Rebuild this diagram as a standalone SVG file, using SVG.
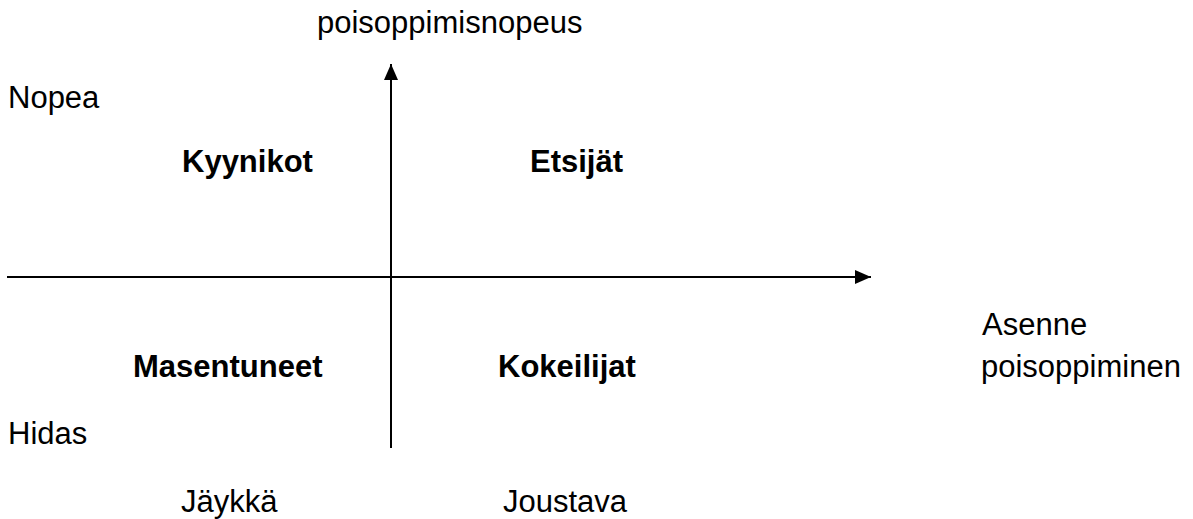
<svg xmlns="http://www.w3.org/2000/svg" width="1193" height="519" viewBox="0 0 1193 519">
<style>
text{font-family:"Liberation Sans",Arial,sans-serif;fill:#000;font-size:31px}
.b{font-weight:bold}
.ax{stroke:#000;stroke-width:2;fill:none}
</style>
<defs>
<marker id="ah" viewBox="0 0 16 14" refX="16" refY="7" markerWidth="16" markerHeight="14" markerUnits="userSpaceOnUse" orient="auto">
<path d="M0,0 L16,7 L0,14 Z" fill="#000"/>
</marker>
</defs>
<rect width="1193" height="519" fill="#fff"/>
<g id="connectors">
<line class="ax" x1="391" y1="448" x2="391" y2="64" marker-end="url(#ah)"/>
<line class="ax" x1="7" y1="277" x2="871" y2="277" marker-end="url(#ah)"/>
</g>
<g id="label-y"><text x="317" y="33">poisoppimisnopeus</text></g>
<g id="label-nopea"><text x="8" y="108">Nopea</text></g>
<g id="node-kyynikot"><text class="b" x="182" y="172">Kyynikot</text></g>
<g id="node-etsijat"><text class="b" x="530" y="172">Etsijät</text></g>
<g id="label-asenne"><text x="982" y="335">Asenne</text></g>
<g id="node-masentuneet"><text class="b" x="133" y="377">Masentuneet</text></g>
<g id="node-kokeilijat"><text class="b" x="498" y="377">Kokeilijat</text></g>
<g id="label-x"><text x="981" y="377">poisoppiminen</text></g>
<g id="label-hidas"><text x="8" y="444">Hidas</text></g>
<g id="label-jaykka"><text x="181" y="512">Jäykkä</text></g>
<g id="label-joustava"><text x="503" y="512">Joustava</text></g>
</svg>
